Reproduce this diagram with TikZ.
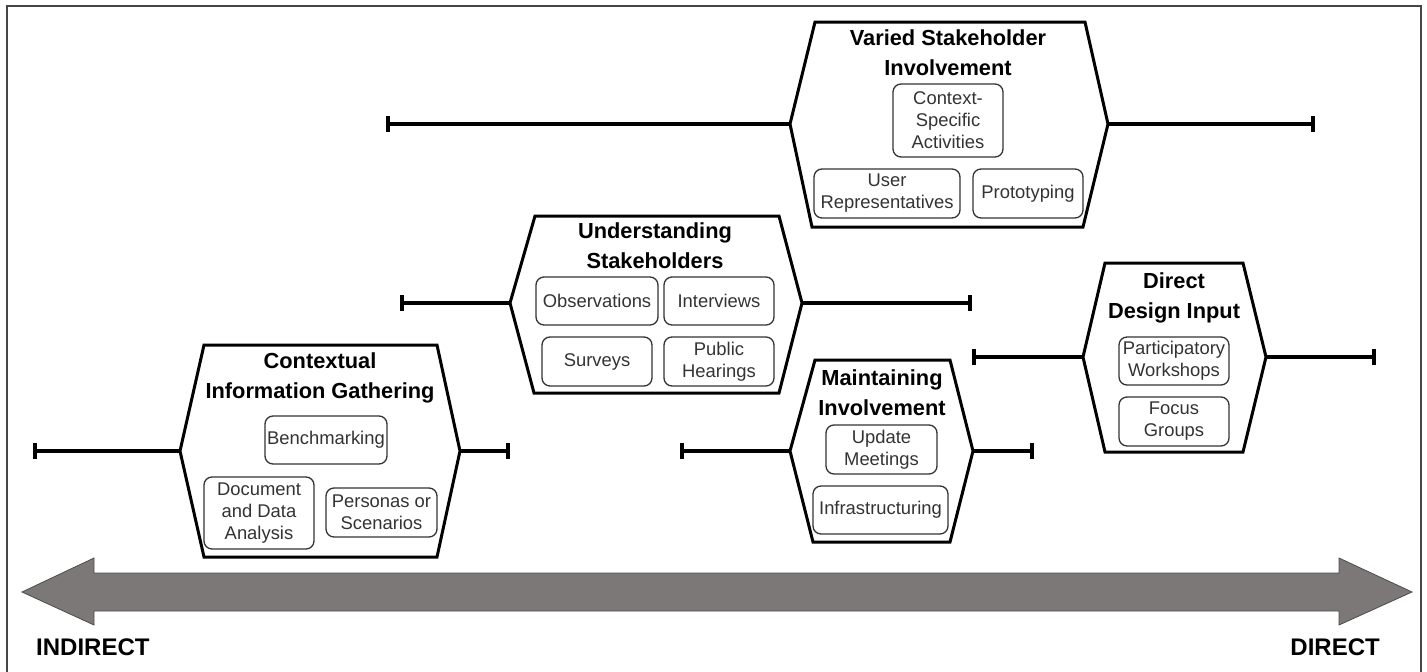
\documentclass[tikz,border=0pt]{standalone}
\usepackage{fontspec}
\setmainfont{Liberation Sans}
\usetikzlibrary{arrows.meta}
\definecolor{arrowgray}{RGB}{125,120,120}
\definecolor{framegray}{RGB}{70,70,70}
\begin{document}
\begin{tikzpicture}[x=1pt,y=-1pt,
  hexa/.style={draw=black,line width=3pt,fill=white,line join=miter},
  item/.style={draw=black!80,line width=1.3pt,rounded corners=8pt,align=center,
    font=\fontsize{18.4}{22}\selectfont,text=black!80,inner sep=0pt},
  ttl/.style={font=\bfseries\fontsize{21.8}{30}\selectfont,align=center,inner sep=0pt},
  conn/.style={line width=3.5pt,{Bar[width=16pt,line width=4pt]}-},
  lbl/.style={font=\bfseries\fontsize{24}{28}\selectfont,inner sep=0pt}]
\useasboundingbox (0,0) rectangle (1427,672);
% frame
\draw[framegray,line width=1.5pt] (7,672) -- (7,6) -- (1421,6) -- (1421,672);

% big double arrow
\draw[draw=black!70,line width=0.8pt,fill=arrowgray]
  (22,592) -- (94,558) -- (94,573) -- (1339,573) -- (1339,558) -- (1412,592)
  -- (1339,625) -- (1339,611) -- (94,611) -- (94,625) -- cycle;
\node[lbl,anchor=west] (indirect) at (36,647) {INDIRECT};
\node[lbl,anchor=east] (direct) at (1380,647) {DIRECT};

% ---------- hexagon 1: Contextual Information Gathering
\coordinate (h1L) at (180,451);
\coordinate (h1R) at (460,451);
\coordinate (h1Le) at (33,451);
\coordinate (h1Re) at (510,451);
\draw[conn] (h1Le) -- (h1L);
\draw[conn] (h1Re) -- (h1R);
\draw[hexa] (h1L) -- (204,345) -- (437,345) -- (h1R) -- (437,557) -- (204,557) -- cycle;
\node[ttl] (t1) at (320,378) {Contextual\\Information Gathering};
\node[item,minimum width=122pt,minimum height=48pt] (bench) at (326,440) {Benchmarking};
\node[item,minimum width=110pt,minimum height=72pt] (docu) at (259,513) {Document\\and Data\\Analysis};
\node[item,minimum width=111pt,minimum height=49pt] (pers) at (381.5,512.5) {Personas or\\Scenarios};

% ---------- hexagon 2: Understanding Stakeholders
\coordinate (h2L) at (510,303);
\coordinate (h2R) at (802,303);
\coordinate (h2Le) at (400,303);
\coordinate (h2Re) at (972,303);
\draw[conn] (h2Le) -- (h2L);
\draw[conn] (h2Re) -- (h2R);
\draw[hexa] (h2L) -- (535,216) -- (779,216) -- (h2R) -- (779,393) -- (534,393) -- cycle;
\node[ttl] (t2) at (655,246) {Understanding\\Stakeholders};
\node[item,minimum width=122pt,minimum height=48pt] (obs) at (597,301) {Observations};
\node[item,minimum width=110pt,minimum height=48pt] (intv) at (719,301) {Interviews};
\node[item,minimum width=110pt,minimum height=49pt] (surv) at (597,361.5) {Surveys};
\node[item,minimum width=110pt,minimum height=49pt] (pub) at (719,361.5) {Public\\Hearings};

% ---------- hexagon 3: Varied Stakeholder Involvement
\coordinate (h3L) at (790,124);
\coordinate (h3R) at (1108,124);
\coordinate (h3Le) at (386,124);
\coordinate (h3Re) at (1315,124);
\draw[conn] (h3Le) -- (h3L);
\draw[conn] (h3Re) -- (h3R);
\draw[hexa] (h3L) -- (815,22) -- (1085,22) -- (h3R) -- (1083,227) -- (812,227) -- cycle;
\node[ttl] (t3) at (948,53) {Varied Stakeholder\\Involvement};
\node[item,minimum width=110pt,minimum height=73pt] (ctx) at (948,120.5) {Context-\\Specific\\Activities};
\node[item,minimum width=146pt,minimum height=49pt] (user) at (887,193.5) {User\\Representatives};
\node[item,minimum width=110pt,minimum height=49pt] (proto) at (1028,193.5) {Prototyping};

% ---------- hexagon 4: Maintaining Involvement
\coordinate (h4L) at (790,451);
\coordinate (h4R) at (973,451);
\coordinate (h4Le) at (680,451);
\coordinate (h4Re) at (1034,451);
\draw[conn] (h4Le) -- (h4L);
\draw[conn] (h4Re) -- (h4R);
\draw[hexa] (h4L) -- (815,360) -- (950,360) -- (h4R) -- (950,542) -- (813,542) -- cycle;
\node[ttl] (t4) at (882,393) {Maintaining\\Involvement};
\node[item,minimum width=111pt,minimum height=49pt] (upd) at (881.5,449.5) {Update\\Meetings};
\node[item,minimum width=135pt,minimum height=48pt] (infra) at (880.5,510) {Infrastructuring};

% ---------- hexagon 5: Direct Design Input
\coordinate (h5L) at (1083,357);
\coordinate (h5R) at (1266,357);
\coordinate (h5Le) at (972,357);
\coordinate (h5Re) at (1376,357);
\draw[conn] (h5Le) -- (h5L);
\draw[conn] (h5Re) -- (h5R);
\draw[hexa] (h5L) -- (1105,263) -- (1243,263) -- (h5R) -- (1243,452) -- (1105,452) -- cycle;
\node[ttl] (t5) at (1174,298) {Direct\\Design Input};
\node[item,minimum width=110pt,minimum height=48pt] (part) at (1174,361) {Participatory\\Workshops};
\node[item,minimum width=110pt,minimum height=49pt] (focus) at (1174,421.5) {Focus\\Groups};
\end{tikzpicture}
\end{document}
